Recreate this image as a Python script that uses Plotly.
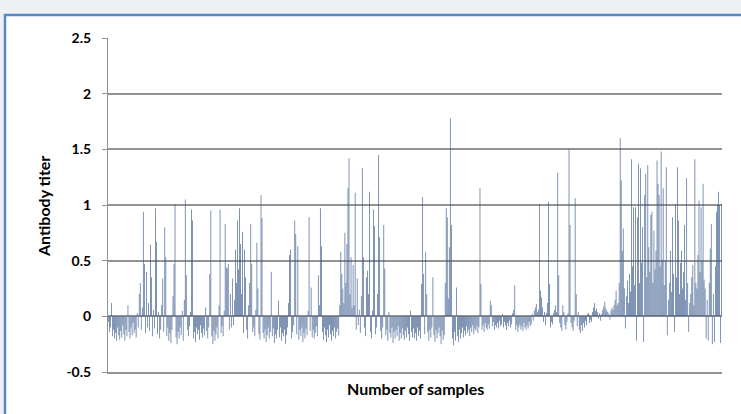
import plotly.graph_objects as go

# Antibody titer per sample (left to right)
titer_a = [-0.05, -0.14, -0.1, 0.12, -0.18, -0.12, -0.2, -0.15, -0.22, -0.1, -0.17, -0.21, -0.13, -0.19, -0.08, -0.16, -0.22, -0.12, -0.18, 0.1,
           -0.14, -0.2, -0.1, -0.17, -0.06, -0.15, -0.12, -0.19, 0.03, -0.1, 0.2, 0.3, -0.12, 0.08, 0.94, 0.47, -0.15, 0.4, -0.1, 0.12,
           -0.13, 0.64, 0.35, -0.18, 0.06, -0.11, 0.97, 0.67, -0.16, 0.04, -0.2, -0.12, 0.1, 0.34, -0.14, 0.8, 0.53, -0.18, -0.1, -0.22,
           -0.15, -0.24, -0.12, 0.18, 0.47, 1.01, -0.19, -0.25, -0.14, -0.2, -0.1, -0.17, 0.05, -0.22, 0.15, 1.05, 0.37, -0.12, -0.18, -0.09,
           0.04, 0.96, 0.86, -0.2, -0.14, -0.23, -0.1, -0.16, -0.12, -0.21, -0.08, -0.15, -0.19, -0.11, -0.17, 0.08, -0.13, -0.2, -0.1, 0.38]
titer_b = [0.95, -0.18, -0.25, -0.13, -0.22, -0.16, -0.1, -0.2, 0.1, 0.96, -0.15, -0.09, -0.18, 0.05, 0.83, 0.44, 0.43, 0.47, -0.12, 0.2,
           -0.1, 0.34, -0.08, 0.15, 0.6, 0.3, 0.86, 0.42, 0.97, 0.65, 0.2, 0.76, -0.15, 0.6, 0.35, -0.12, -0.2, 0.1, 0.3, 0.83,
           0.47, -0.14, -0.1, -0.18, 0.06, 0.66, 0.25, -0.16, -0.21, 1.09, 0.88, -0.15, -0.2, -0.12, -0.23, -0.17, -0.1, -0.2, -0.14, 0.4,
           -0.18, -0.11, -0.24, -0.16, -0.2, -0.12, 0.14, -0.19, -0.1, -0.22, -0.15, -0.18, -0.12, -0.25, -0.17, -0.1, 0.12, 0.55, 0.6, -0.2,
           -0.14, -0.08, 0.86, 0.74, -0.16, 0.63, -0.21, -0.12, -0.18, -0.1, -0.23, -0.15, -0.2, -0.11, -0.17, 0.05, 0.89, -0.13, 0.26, -0.19]
titer_c = [-0.12, -0.2, -0.15, -0.09, -0.18, 0.37, 0.1, 0.97, 0.63, -0.14, -0.21, -0.1, -0.17, -0.23, -0.12, -0.19, -0.08, -0.16, -0.22, -0.13,
           -0.18, -0.1, -0.2, -0.14, -0.11, -0.17, 0.1, 0.58, 0.38, 0.25, 0.12, 0.75, 0.3, 0.65, 1.15, 1.42, 0.2, 0.53, 0.08, 0.46,
           0.1, 1.11, -0.12, 0.34, -0.08, 0.06, -0.15, 0.18, 1.33, 0.53, -0.1, -0.18, 0.35, 0.41, 0.2, 1.12, -0.14, -0.2, 0.05, 0.96,
           0.81, -0.16, -0.1, 0.2, 1.45, 0.71, -0.13, -0.2, -0.1, 0.82, 0.43, -0.17, -0.12, -0.22, 0.04, -0.15, -0.19, -0.1, -0.24, -0.14,
           -0.2, -0.12, -0.18, -0.09, -0.22, -0.15, -0.2, -0.11, -0.17, -0.21, -0.13, -0.19, -0.1, -0.16, -0.22, 0.05, -0.14, -0.19, -0.11, -0.2]
titer_d = [-0.15, -0.22, -0.1, -0.18, -0.13, -0.2, 0.29, 1.07, 0.38, -0.16, 0.58, 0.2, -0.14, -0.22, -0.12, -0.19, -0.1, 0.35, -0.17, -0.23,
           -0.12, -0.2, -0.15, -0.1, -0.18, -0.25, -0.13, -0.21, -0.17, 0.3, 0.97, 0.89, 0.16, 0.62, 1.78, 0.82, -0.2, -0.26, -0.14, -0.22,
           0.26, -0.18, -0.23, -0.12, -0.2, -0.15, -0.1, -0.19, -0.13, -0.17, -0.09, -0.15, -0.12, -0.18, -0.1, -0.14, -0.08, -0.16, -0.11, -0.13,
           -0.09, -0.15, -0.1, 1.15, 0.29, -0.12, -0.08, -0.14, -0.06, -0.1, -0.12, -0.07, -0.11, 0.14, 0.1, -0.09, -0.05, -0.12, -0.08, -0.1,
           -0.06, -0.11, -0.04, -0.09, -0.07, 0.02, -0.1, -0.05, -0.08, -0.12, -0.06, -0.09, -0.04, -0.1, -0.07, 0.03, 0.06, 0.28, -0.12, -0.08]
titer_e = [-0.14, -0.1, -0.07, -0.12, -0.09, -0.13, -0.06, -0.1, -0.12, -0.08, -0.11, -0.05, -0.09, -0.07, 0.02, -0.04, 0.05, 0.08, 0.11, 0.04,
           0.06, 1.01, 0.23, 0.17, 0.08, -0.05, 0.04, -0.08, 0.03, 0.12, 1.03, 0.29, -0.1, -0.05, -0.07, 0.03, 0.06, 0.1, 0.04, 1.29,
           0.37, -0.06, -0.1, -0.13, 0.1, 0.04, -0.08, -0.12, -0.05, 0.03, 1.5, 0.82, -0.06, -0.1, -0.13, -0.04, 1.06, 0.2, -0.09, 0.04,
           -0.12, -0.15, -0.08, -0.13, -0.06, -0.1, -0.04, -0.08, 0.02, 0.03, -0.06, -0.03, -0.05, 0.04, 0.08, 0.12, 0.05, 0.07, 0.04, -0.02,
           0.03, -0.04, 0.02, 0.06, 0.09, 0.13, 0.07, 0.05, 0.04, 0.02, -0.03, 0.05, 0.08, 0.06, 0.1, 0.15, 0.23, 0.1, 0.12, 0.3]
titer_f = [1.6, 1.22, 0.59, 0.79, 0.25, -0.11, 0.18, 0.32, 0.12, 0.38, 0.22, 1.41, 0.45, 0.98, 0.28, 0.98, -0.22, 0.89, 1.37, 0.3,
           1.33, 0.48, 0.8, -0.23, 1.09, 1.28, 0.35, 1.36, 0.62, 0.4, 0.91, 0.94, 0.3, 0.77, 0.42, 0.59, 1.4, 1.19, 1.09, 0.45,
           1.48, 0.5, 1.15, 0.28, 0.5, 1.34, -0.17, 0.15, 0.3, 0.59, 0.22, 0.89, 0.38, -0.14, 1.01, 0.35, 1.34, 0.86, 0.2, 0.48,
           0.59, 0.25, 0.4, 0.82, 0.15, 1.24, 0.3, -0.14, 0.12, 0.2, 0.35, 0.46, 0.1, 1.41, 0.3, 0.25, 0.55, 1.04, 0.4, 0.98,
           0.5, 1.19, 0.33, 0.25, -0.2, 0.15, -0.22, 0.3, 0.61, 0.83, -0.25, 0.2, -0.23, 0.45, 0.94, 1.0, 1.12, 1.0, -0.24, 1.01]

titer = titer_a + titer_b + titer_c + titer_d + titer_e + titer_f
samples = list(range(1, len(titer) + 1))

y_tick_vals = [-0.5, 0, 0.5, 1, 1.5, 2, 2.5]
y_tick_text = ["-0.5", "0", "0.5", "1", "1.5", "2", "2.5"]

font_family = "Lato, 'Open Sans', sans-serif"
grid_col = "#939393"

fig = go.Figure()
fig.add_trace(go.Bar(
    x=samples, y=titer,
    marker=dict(color="rgba(58,90,140,0.9)", line=dict(width=0)),
    hoverinfo="x+y",
))

fig.update_layout(
    width=741, height=414,
    margin=dict(l=108, r=19, t=38, b=42),
    paper_bgcolor="#eff0f2",
    plot_bgcolor="rgba(0,0,0,0)",
    bargap=0.3,
    showlegend=False,
    font=dict(family=font_family, color="#000000"),
    xaxis=dict(
        range=[0.5, len(titer) + 0.5],
        showticklabels=False, ticks="", showgrid=False, zeroline=False,
        showline=True, linecolor=grid_col, linewidth=2,
    ),
    yaxis=dict(
        range=[-0.5, 2.5],
        tickvals=y_tick_vals, ticktext=y_tick_text,
        tickfont=dict(family=font_family, size=14, color="#000000", weight="bold"),
        ticks="outside", ticklen=5, tickcolor=grid_col, tickwidth=1,
        ticklabelstandoff=8,
        showgrid=True, gridcolor=grid_col, gridwidth=1.6,
        zeroline=True, zerolinecolor=grid_col, zerolinewidth=1.8,
        showline=True, linecolor=grid_col, linewidth=1,
    ),
    shapes=[
        dict(type="rect", xref="paper", yref="paper",
             x0=(5 - 108) / 614, x1=1.2, y0=-0.3, y1=(372 - 15) / 334,
             line=dict(color="#5a87c5", width=2.5), fillcolor="#ffffff", layer="below"),
    ],
    annotations=[
        dict(text="<b>Number of samples</b>", xref="paper", yref="paper",
             x=0.5, y=(372 - 388) / 334, xanchor="center", yanchor="middle",
             showarrow=False, font=dict(family=font_family, size=16, color="#000000")),
        dict(text="<b>Antibody titer</b>", xref="paper", yref="paper",
             x=(44 - 108) / 614, y=(372 - 207) / 334, xanchor="center", yanchor="middle",
             textangle=-90, showarrow=False,
             font=dict(family=font_family, size=16, color="#000000")),
    ],
)

fig.write_html("out.html", config={"displayModeBar": False},
               post_script="document.body.style.margin='0';document.body.style.overflow='hidden';")
